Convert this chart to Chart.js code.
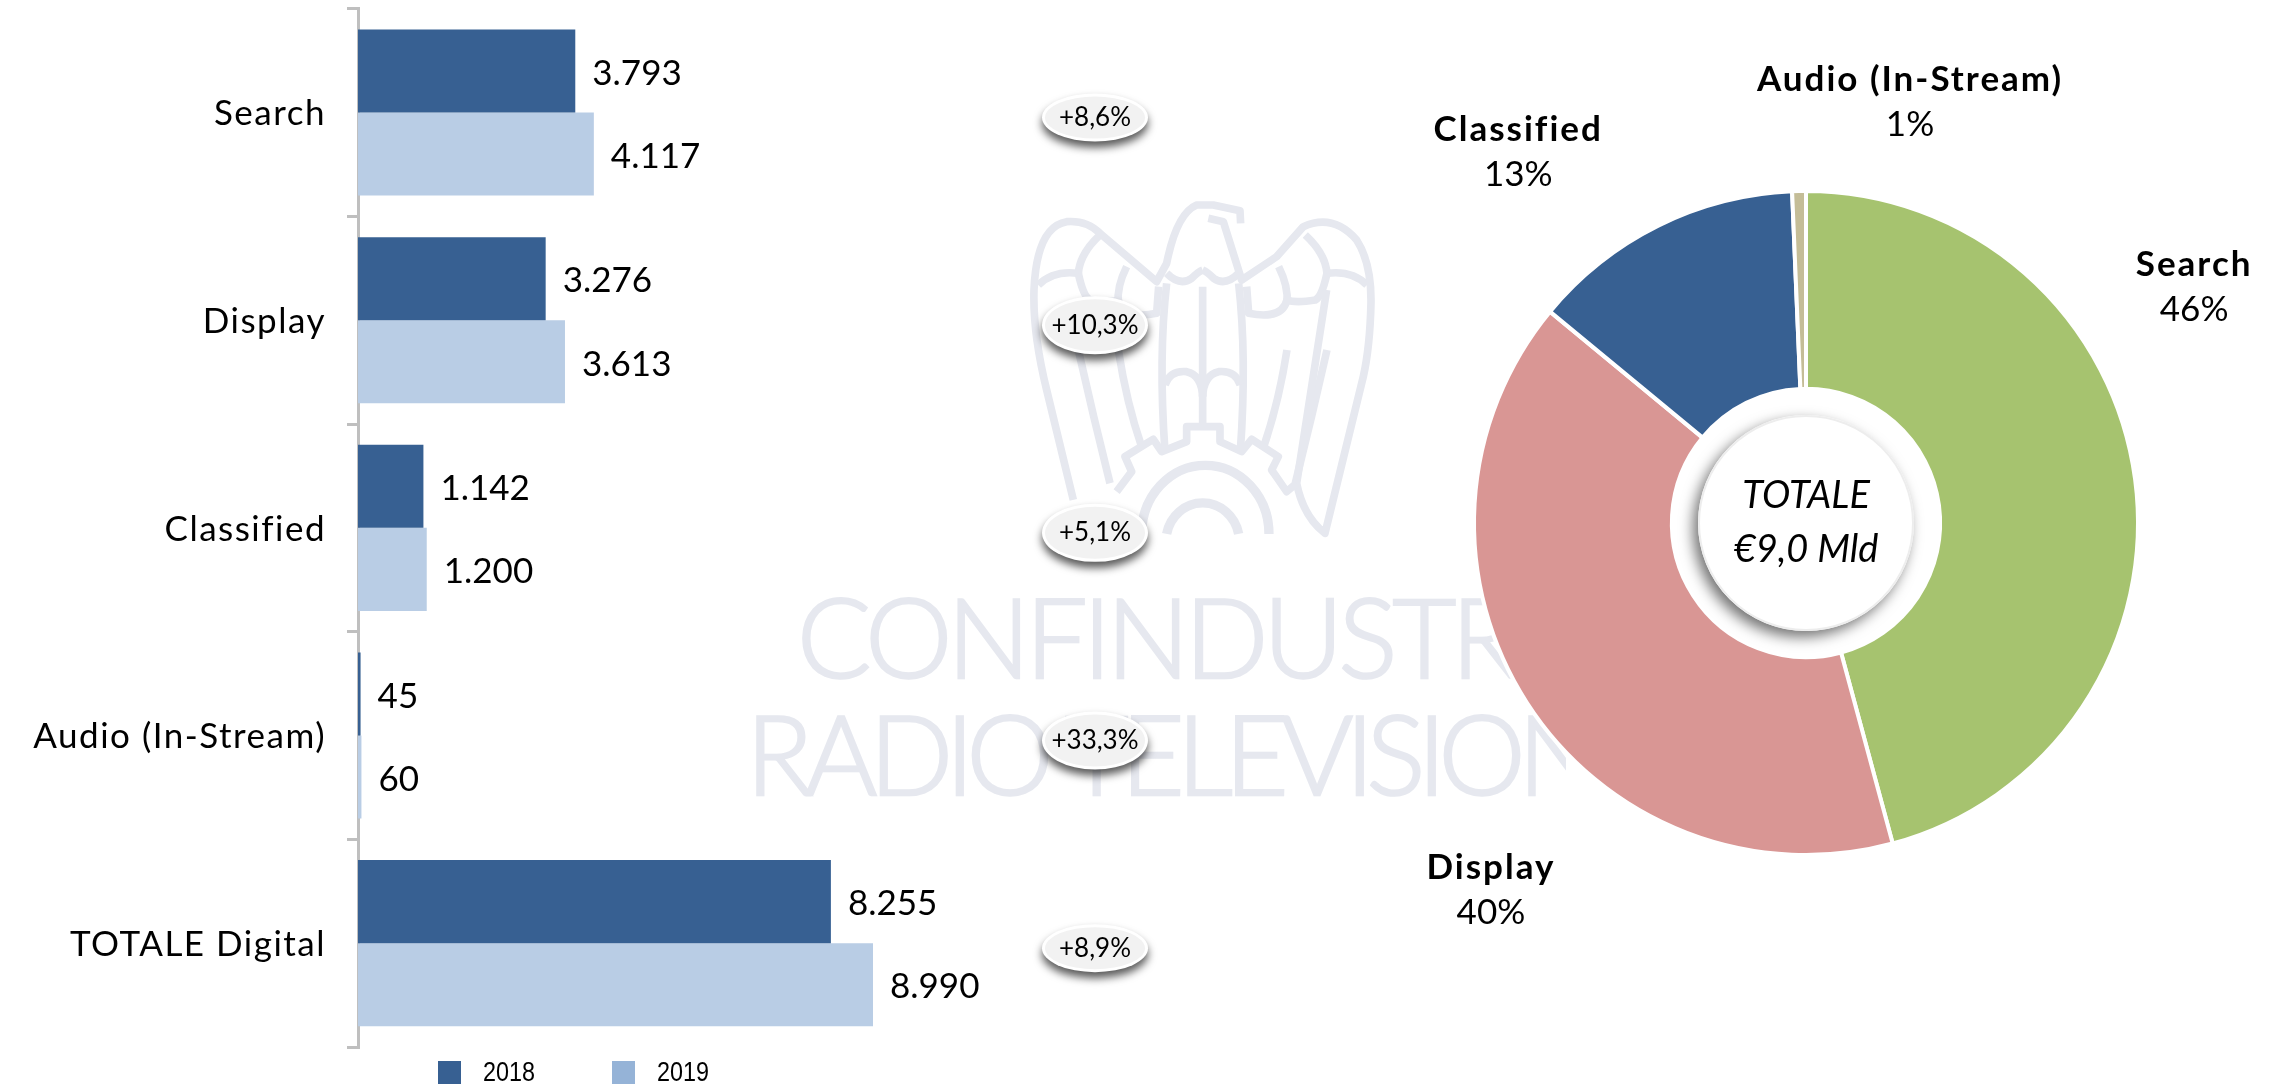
<!DOCTYPE html>
<html>
<head>
<meta charset="utf-8">
<style>
html,body{margin:0;padding:0;background:#fff;width:2282px;height:1085px;overflow:hidden}
#wm{position:absolute;left:0;top:0}
#bars{position:absolute;left:-14px;top:0;width:1174px;height:1085px}
#pie{position:absolute;left:1330px;top:0;width:952px;height:1046px}
</style>
<script src="https://cdn.jsdelivr.net/npm/chart.js@4"></script>
</head>
<body>
<svg id="wm" width="2282" height="1085" xmlns="http://www.w3.org/2000/svg">
  <defs><clipPath id="wmclip"><rect x="700" y="560" width="866" height="260"/></clipPath></defs>
  <g clip-path="url(#wmclip)" fill="#E6E8EF" stroke="#E6E8EF" stroke-width="2.5" font-family="Lato" font-weight="300" font-size="110">
    <text x="797" y="678" textLength="812" lengthAdjust="spacing">CONFINDUSTRIA</text>
    <text x="746" y="795" textLength="876" lengthAdjust="spacing">RADIO TELEVISIONI</text>
  </g>
  <g transform="translate(1010 190) scale(0.3333)" fill="none" stroke="#E6E8EF" stroke-width="23" stroke-linejoin="round">
    <g id="half">
      <path d="M270 135 Q210 190 205 250 Q130 240 85 285"/>
      <path d="M350 230 Q320 290 325 340"/>
      <path d="M205 250 Q220 320 240 330 Q300 340 325 330 Q340 390 440 370 L446 290"/>
      <path d="M205 480 Q250 680 300 880"/>
      <path d="M325 480 Q350 640 395 770"/>
      <path d="M470 280 Q445 500 465 785"/>
      <path d="M578 620 Q575 555 530 545 Q480 540 465 585"/>
      <path d="M470 250 Q510 290 545 265 Q565 245 578 240"/>
    </g>
    <use href="#half" transform="translate(1156 0) scale(-1 1)"/>
    <path d="M190 930 L110 600 Q68 430 72 300 Q80 110 170 95 Q230 90 270 130 L440 275 L470 220 Q500 70 560 45 L610 45 L690 62 L692 100 M595 85 L640 95 L695 270 L800 200 L880 110 Q970 70 1040 150 Q1085 220 1083 340 Q1080 470 1060 560 L945 1030 Q880 980 860 880 L950 300"/>
    <path d="M578 290 V710"/>
    <path d="M320 905 L365 845 L345 800 L430 748 L455 785 L530 755 L530 710 L630 710 L630 755 L695 785 L725 748 L805 800 L785 840 L830 905 L860 880"/>
    <path d="M395 1032 A190 205 0 0 1 777 1032" stroke-width="28"/>
    <path d="M470 1032 A110 115 0 0 1 686 1032" stroke-width="28"/>
  </g>
</svg>
<canvas id="bars" width="1174" height="1085"></canvas>
<canvas id="pie" width="952" height="1046"></canvas>
<script>
const categories = ["Search", "Display", "Classified", "Audio (In-Stream)", "TOTALE Digital"];
const values2018 = [3793, 3276, 1142, 45, 8255];
const values2019 = [4117, 3613, 1200, 60, 8990];
const growthLabels = ["+8,6%", "+10,3%", "+5,1%", "+33,3%", "+8,9%"];
const seriesNames = ["2018", "2019"];
const pieLabels = ["Search", "Display", "Classified", "Audio (In-Stream)"];
const pieValues = [4117, 3613, 1200, 60];
const piePercents = ["46%", "40%", "13%", "1%"];
const centerLines = ["TOTALE", "€9,0 Mld"];

const BLUE = "#376092", LIGHT = "#B9CDE5", LEGEND_LIGHT = "#95B3D7";
const SANS = "Lato, sans-serif";
const fmt = v => String(v).replace(/\B(?=(\d{3})+$)/g, ".");
const badgeX = 1109;                 // canvas px
const badgeRy = [24, 29, 29, 29, 24];
const pieLabelOffsets = [[59,-192],[-36,188],[-140,-73],[111,-88]];
const legendBoxX = [452, 626];       // canvas px
const legendTextGap = 22;

const barLook = {
  id: "barLook",
  beforeDraw(c){
    const s = c.scales.y, ctx = c.ctx, orig = s.drawLabels;
    if (!s._wrapped) {
      s._wrapped = true;
      s.drawLabels = function(a){
        ctx.save();
        ctx.letterSpacing = "1.5px";
        ctx.translate(1, 1.5);
        orig.call(this, a);
        ctx.restore();
      };
    }
  },
  afterDatasetsDraw(c){
    const ctx = c.ctx;
    ctx.save();
    ctx.fillStyle = "#000";
    ctx.textBaseline = "middle";
    ctx.textAlign = "left";
    ctx.font = "400 35px " + SANS;
    c.data.datasets.forEach((ds, i) => {
      c.getDatasetMeta(i).data.forEach((bar, j) => {
        ctx.fillText(fmt(ds.data[j]), bar.x + 17, bar.y + 2.5);
      });
    });
    // growth badges, centred on each category band
    const y = c.scales.y;
    growthLabels.forEach((t, j) => {
      const cy = y.getPixelForValue(j) + 5;
      ctx.save();
      ctx.shadowColor = "rgba(0,0,0,0.65)";
      ctx.shadowBlur = 9;
      ctx.shadowOffsetY = 6;
      ctx.beginPath();
      ctx.ellipse(badgeX, cy, 53, badgeRy[j], 0, 0, Math.PI * 2);
      ctx.fillStyle = "#fff";
      ctx.fill();
      ctx.restore();
      ctx.beginPath();
      ctx.ellipse(badgeX, cy, 50, badgeRy[j] - 3, 0, 0, Math.PI * 2);
      ctx.fillStyle = "#F2F2F2";
      ctx.fill();
      ctx.fillStyle = "#000";
      ctx.textAlign = "center";
      ctx.font = "400 26px " + SANS;
      ctx.fillText(t, badgeX, cy);
    });
    // legend
    ctx.textAlign = "left";
    ctx.font = "400 28px 'Liberation Sans', sans-serif";
    c.data.datasets.forEach((d, i) => {
      ctx.fillStyle = d.legendColor;
      ctx.fillRect(legendBoxX[i], 1061, 23, 23);
      ctx.fillStyle = "#000";
      ctx.fillText(d.label, legendBoxX[i] + 23 + legendTextGap, 1073, 52);
    });
    ctx.restore();
  }
};

new Chart(document.getElementById("bars"), {
  type: "bar",
  data: {
    labels: categories,
    datasets: [
      { label: seriesNames[0], data: values2018, backgroundColor: BLUE, legendColor: BLUE },
      { label: seriesNames[1], data: values2019, backgroundColor: LIGHT, legendColor: LEGEND_LIGHT }
    ]
  },
  options: {
    indexAxis: "y",
    responsive: false,
    animation: false,
    layout: { padding: { top: 8.7, right: 0, bottom: 38, left: 0 } },
    datasets: { bar: { categoryPercentage: 0.8, barPercentage: 1 } },
    scales: {
      x: { display: false, min: 0, max: 14000 },
      y: {
        afterFit(s){ s.width = 372; s.paddingTop = 0; s.paddingBottom = 0; },
        grid: { offset: true, drawOnChartArea: false, drawTicks: true, tickLength: 11, color: "#BFBFBF", lineWidth: 3 },
        border: { display: true, color: "#BFBFBF", width: 3 },
        ticks: { color: "#000", padding: 22, font: { family: SANS, size: 35, weight: "400" }, crossAlign: "near" }
      }
    },
    plugins: {
      tooltip: { enabled: false },
      legend: { display: false }
    }
  },
  plugins: [barLook]
});

const pieLook = {
  id: "pieLook",
  afterDatasetsDraw(c){
    const ctx = c.ctx;
    const arcs = c.getDatasetMeta(0).data;
    const cx = arcs[0].x, cy = arcs[0].y, R = arcs[0].outerRadius;
    ctx.save();
    // centre disc
    ctx.save();
    ctx.shadowColor = "rgba(0,0,0,0.55)";
    ctx.shadowBlur = 14;
    ctx.shadowOffsetX = -5;
    ctx.shadowOffsetY = 6;
    ctx.beginPath();
    ctx.arc(cx, cy, 108, 0, Math.PI * 2);
    ctx.fillStyle = "#fff";
    ctx.fill();
    ctx.restore();
    ctx.beginPath();
    ctx.arc(cx, cy, 107, 0, Math.PI * 2);
    ctx.strokeStyle = "#EDEDED";
    ctx.lineWidth = 2;
    ctx.stroke();
    ctx.fillStyle = "#000";
    ctx.textAlign = "center";
    ctx.textBaseline = "middle";
    ctx.font = "italic 400 38px " + SANS;
    ctx.fillText(centerLines[0], cx, cy - 27);
    ctx.fillText(centerLines[1], cx, cy + 27);
    // slice labels
    arcs.forEach((a, i) => {
      const mid = (a.startAngle + a.endAngle) / 2;
      const x = cx + Math.cos(mid) * R + pieLabelOffsets[i][0];
      const y = cy + Math.sin(mid) * R + pieLabelOffsets[i][1];
      ctx.letterSpacing = "2px";
      ctx.font = "700 35px " + SANS;
      ctx.fillText(pieLabels[i], x, y - 23);
      ctx.letterSpacing = "0px";
      ctx.font = "400 35px " + SANS;
      ctx.fillText(piePercents[i], x, y + 22);
    });
    ctx.restore();
  }
};

new Chart(document.getElementById("pie"), {
  type: "doughnut",
  data: {
    labels: pieLabels,
    datasets: [{
      data: pieValues,
      backgroundColor: ["#A6C36F", "#D99694", BLUE, "#C4BD97"],
      borderColor: "#fff",
      borderWidth: 4
    }]
  },
  options: {
    responsive: false,
    animation: false,
    radius: 332,
    cutout: "40.4%",
    plugins: { legend: { display: false }, tooltip: { enabled: false } }
  },
  plugins: [pieLook]
});
</script>
</body>
</html>
